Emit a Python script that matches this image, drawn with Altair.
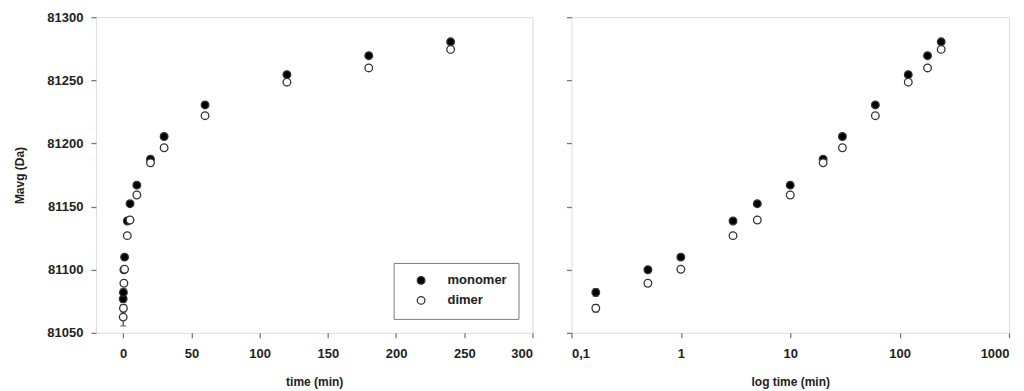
import altair as alt
import pandas as pd

# data
times = [0, 0.167, 0.5, 1, 3, 5, 10, 20, 30, 60, 120, 180, 240]
monomer = [81077, 81082, 81100, 81110, 81138.6, 81152.3, 81167, 81187.5, 81205.5, 81230.5, 81254.5, 81269.5, 81280.5]
monomer_err = [3, 3, 1, 1, 2, 1, 1, 1, 1, 1, 1, 1, 1]
dimer = [81062.5, 81069.5, 81089.3, 81100.4, 81127, 81139.4, 81159.2, 81184.7, 81196.6, 81222, 81248.5, 81259.8, 81274.5]
dimer_err = [7, 3, 1, 1, 1, 1, 1, 1, 1, 1, 1, 1, 1]
series = ["monomer", "dimer"]
y_ticks = [81050, 81100, 81150, 81200, 81250, 81300]
x_lin_ticks = [0, 50, 100, 150, 200, 250, 300]
x_log_ticks = [0.1, 1, 10, 100, 1000]

rows = []
for name, vals, errs in (("monomer", monomer, monomer_err), ("dimer", dimer, dimer_err)):
    for t, v, e in zip(times, vals, errs):
        rows.append({"series": name, "time": t, "value": v, "err": e})
df = pd.DataFrame(rows)

FONT = "Liberation Sans"
GRAY = "#7a7a7a"

yscale = alt.Scale(domain=[81050, 81300], nice=False, zero=False)
fill_scale = alt.Scale(domain=series, range=["black", "white"])


def panel(xenc_field, xscale, xaxis, yaxis, legend, data_filter=None):
    base = alt.Chart(df)
    if data_filter:
        base = base.transform_filter(data_filter)
    err = base.mark_errorbar(ticks=alt.MarkConfig(size=6), color="#222", thickness=1).encode(
        x=alt.X(xenc_field, type="quantitative", scale=xscale, axis=xaxis),
        y=alt.Y("value:Q", scale=yscale, axis=yaxis),
        yError=alt.YError("err:Q"),
    )
    pts = base.mark_point(shape="circle", filled=True, size=58, stroke="#333",
                          strokeWidth=1.3, opacity=1).encode(
        x=alt.X(xenc_field, type="quantitative", scale=xscale, axis=xaxis),
        y=alt.Y("value:Q", scale=yscale, axis=yaxis),
        fill=alt.Fill("series:N", scale=fill_scale, legend=legend),
    )
    return alt.layer(err, pts)


axis_common = dict(
    grid=False, domain=False, tickColor=GRAY, tickSize=5, tickWidth=1.3,
    labelFont=FONT, labelFontWeight="bold", labelFontSize=13, labelColor="#222",
    titleFont=FONT, titleFontWeight="bold", titleFontSize=12, titleColor="#222",
)

left_x_axis = alt.Axis(values=x_lin_ticks, title="time (min)", labelPadding=10,
                       titlePadding=16, **axis_common)
left_y_axis = alt.Axis(values=y_ticks, title="Mavg (Da)", labelPadding=8, format="d",
                       titlePadding=20, **axis_common)
right_x_axis = alt.Axis(values=x_log_ticks, title="log time (min)", labelPadding=10,
                        titlePadding=16,
                        labelExpr="datum.value == 0.1 ? '0,1' : format(datum.value, 'd')",
                        **axis_common)
right_y_axis = alt.Axis(values=y_ticks, title=None, labels=False, **axis_common)

legend = alt.Legend(
    title=None, orient="none", legendX=298, legendY=246,
    strokeColor=GRAY, fillColor="white", padding=11,
    symbolStrokeColor="#333", symbolStrokeWidth=1.3, symbolSize=58, symbolType="circle",
    symbolOffset=10, labelOffset=20, rowPadding=6,
    labelFont=FONT, labelFontWeight="bold", labelFontSize=13, labelColor="#222",
)

left = panel("time", alt.Scale(domain=[-20, 300], nice=False), left_x_axis, left_y_axis,
             legend).properties(width=437, height=316)
right = panel("time", alt.Scale(type="log", domain=[0.1, 1000], nice=False), right_x_axis,
              right_y_axis, None, data_filter="datum.time > 0").properties(width=438, height=316)

chart = alt.hconcat(left, right, spacing=30).configure_view(
    stroke=GRAY, strokeWidth=1.5
).configure(padding={"left": 5, "top": 2, "right": 5, "bottom": 5})

chart.save("out.html", embed_options={"renderer": "svg", "actions": False})
